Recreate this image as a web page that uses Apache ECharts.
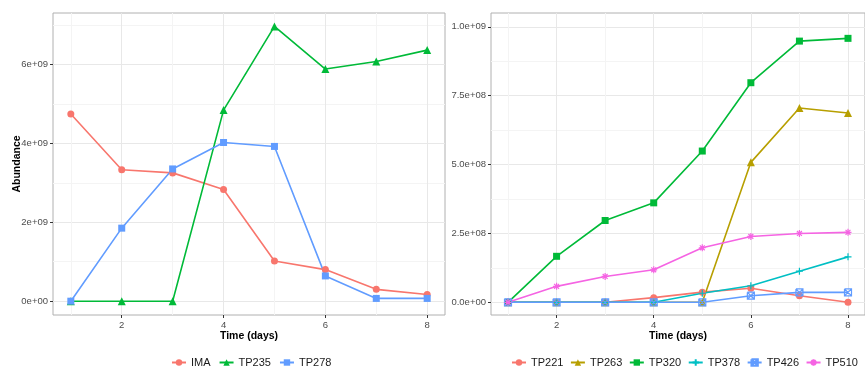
<!DOCTYPE html>
<html><head><meta charset="utf-8">
<script src="https://cdn.jsdelivr.net/npm/echarts@6/dist/echarts.min.js"></script>
<style>html,body{margin:0;padding:0;background:#fff}#c{width:865px;height:367px}</style>
</head><body><div id="c"></div>
<script>
const days = [1,2,3,4,5,6,7,8];
const leftNames = ['IMA','TP235','TP278'];
const rightNames = ['TP221','TP263','TP320','TP378','TP426','TP510'];
const IMA   = [4.74e9,3.33e9,3.25e9,2.83e9,1.02e9,0.80e9,0.30e9,0.17e9];
const TP235 = [0,0,0,4.84e9,6.96e9,5.88e9,6.07e9,6.36e9];
const TP278 = [0,1.85e9,3.35e9,4.02e9,3.92e9,0.64e9,0.07e9,0.07e9];
const TP221 = [0,0,0,0.17e8,0.37e8,0.51e8,0.24e8,0];
const TP263 = [0,0,0,0,0,5.08e8,7.05e8,6.87e8];
const TP320 = [0,1.67e8,2.97e8,3.61e8,5.49e8,7.97e8,9.48e8,9.58e8];
const TP378 = [0,0,0,0,0.33e8,0.60e8,1.13e8,1.65e8];
const TP426 = [0,0,0,0,0,0.24e8,0.36e8,0.36e8];
const TP510 = [0,0.58e8,0.94e8,1.18e8,1.98e8,2.39e8,2.50e8,2.54e8];
const xTicks = [2,4,6,8];
const xMinor = [1,3,5,7];
const leftYTicks = [0,2e9,4e9,6e9];
const leftYMinor = [1e9,3e9,5e9,7e9];
const rightYTicks = [0,2.5e8,5e8,7.5e8,1e9];
const rightYMinor = [1.25e8,3.75e8,6.25e8,8.75e8];

const leftSeries = [IMA, TP235, TP278];
const rightSeries = [TP221, TP263, TP320, TP378, TP426, TP510];
const leftColors = ['#F8766D','#00BA38','#619CFF'];
const rightColors = ['#F8766D','#B79F00','#00BA38','#00BFC4','#619CFF','#F564E3'];
const PLUS = 'path://M5,0L5,10M0,5L10,5';
const BOXX = 'path://M0,0L10,0L10,10L0,10L0,0M0,0L10,10M10,0L0,10';
const STAR = 'path://M5,0L5,10M0,5L10,5M1.5,1.5L8.5,8.5M8.5,1.5L1.5,8.5';
const leftShapes = ['circle','triangle','rect'];
const rightShapes = ['circle','triangle','rect',PLUS,BOXX,STAR];

function sci(v, d){
  if (v === 0) return (d ? '0.' + '0'.repeat(d) : '0') + 'e+00';
  return v.toExponential(d).replace(/e([+-])(\d)$/, 'e$10$2');
}
const FONT = '"Liberation Sans", Arial, sans-serif';
const tickLabel = {color:'#4d4d4d', fontSize:9.5, fontFamily:FONT};

function mainX(grid){
  return {type:'value', gridIndex:grid, min:0.65, max:8.35,
    name:'Time (days)', nameLocation:'middle', nameGap:16, nameMoveOverlap:false,
    nameTextStyle:{fontWeight:'bold', fontSize:10.5, color:'#000', fontFamily:FONT},
    axisLine:{show:false, onZero:false},
    axisTick:{show:true, length:3, inside:false, customValues:xTicks, lineStyle:{color:'#333'}},
    axisLabel:{customValues:xTicks, margin:5, ...tickLabel},
    splitLine:{show:true, lineStyle:{color:'#e8e8e8', width:1}}};
}
function minorX(grid){
  return {type:'value', gridIndex:grid, min:0.65, max:8.35,
    axisLine:{show:false, onZero:false}, axisTick:{show:false, customValues:xMinor},
    axisLabel:{show:false, customValues:xMinor},
    splitLine:{show:true, lineStyle:{color:'#f4f4f4', width:1}}};
}
function mainY(grid, min, max, ticks, d, withName){
  return {type:'value', gridIndex:grid, min:min, max:max,
    name: withName ? 'Abundance' : '', nameLocation:'middle', nameGap:30, nameMoveOverlap:false,
    nameTextStyle:{fontWeight:'bold', fontSize:10.5, color:'#000', fontFamily:FONT},
    axisLine:{show:false, onZero:false},
    axisTick:{show:true, length:3, customValues:ticks, lineStyle:{color:'#333'}},
    axisLabel:{customValues:ticks, margin:5, formatter:v=>sci(v,d), ...tickLabel},
    splitLine:{show:true, lineStyle:{color:'#e8e8e8', width:1}}};
}
function minorY(grid, min, max, ticks){
  return {type:'value', gridIndex:grid, min:min, max:max,
    axisLine:{show:false, onZero:false}, axisTick:{show:false, customValues:ticks},
    axisLabel:{show:false, customValues:ticks},
    splitLine:{show:true, lineStyle:{color:'#f4f4f4', width:1}}};
}
function mkSeries(name, vals, color, shape, axisIdx){
  const open = typeof shape === 'string' && shape.startsWith('path://');
  const isBox = shape === BOXX;
  return {name:name, type:'line', xAxisIndex:axisIdx, yAxisIndex:axisIdx,
    data: days.map((d,i)=>[d, vals[i]]),
    symbol: shape, symbolSize: shape==='triangle' ? 8 : 7,
    showAllSymbol:true, animation:false,
    lineStyle:{color:color, width:1.6},
    itemStyle:{color: isBox ? 'rgba(255,255,255,0)' : color, borderColor:color, borderWidth: open ? 1.2 : 0, opacity:1},
    emphasis:{disabled:true}};
}
const series = [];
leftNames.forEach((n,i)=>series.push(mkSeries(n, leftSeries[i], leftColors[i], leftShapes[i], 0)));
rightNames.forEach((n,i)=>series.push(mkSeries(n, rightSeries[i], rightColors[i], rightShapes[i], 2)));

const legendBase = {orient:'horizontal', top:357, padding:0, itemWidth:14, itemHeight:8,
  textStyle:{fontSize:11, color:'#1a1a1a', fontFamily:FONT}};
const chart = echarts.init(document.getElementById('c'), null, {renderer:'canvas'});
chart.setOption({
  backgroundColor:'#fff',
  animation:false,
  grid:[
    {left:53, top:13, width:392, height:302, show:true, borderColor:'#b0b0b0', borderWidth:1, backgroundColor:'#fff'},
    {left:491, top:13, width:383, height:302, show:true, borderColor:'#b0b0b0', borderWidth:1, backgroundColor:'#fff'}
  ],
  xAxis:[mainX(0), minorX(0), mainX(1), minorX(1)],
  yAxis:[mainY(0,-0.35e9,7.3e9,leftYTicks,0,true), minorY(0,-0.35e9,7.3e9,leftYMinor),
         mainY(1,-0.046e9,1.05e9,rightYTicks,1,false), minorY(1,-0.046e9,1.05e9,rightYMinor)],
  legend:[
    Object.assign({data:leftNames, left:171, width:300, itemGap:8}, legendBase),
    Object.assign({data:rightNames, left:511, width:400, itemGap:6.5}, legendBase)
  ],
  series:series
});
</script></body></html>
